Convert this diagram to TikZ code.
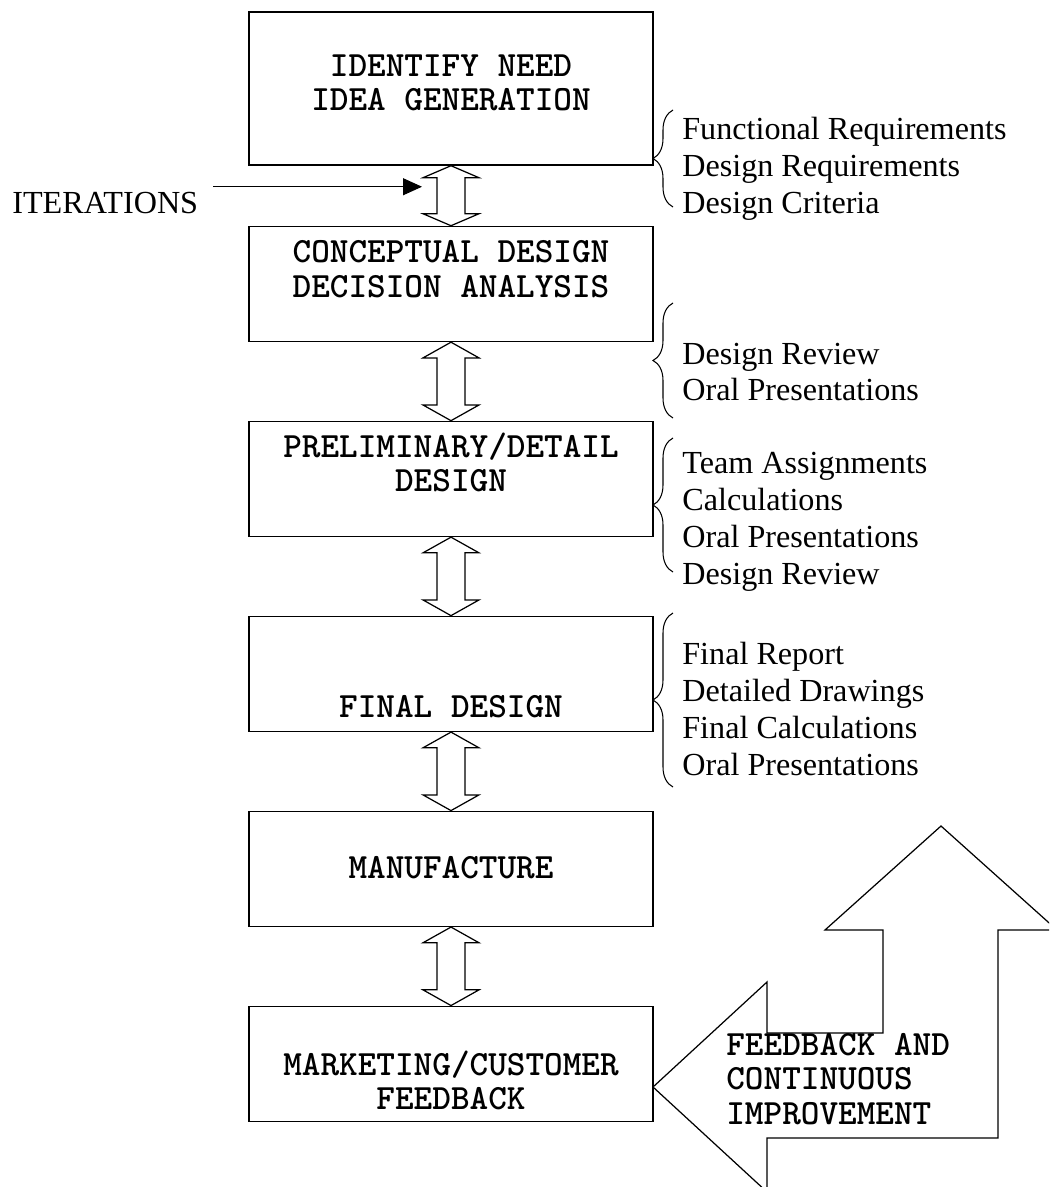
\documentclass[tikz,border=0pt]{standalone}
\usepackage{fontspec}
\setmainfont{Liberation Serif}
\usetikzlibrary{arrows.meta, positioning, calc, decorations.pathreplacing}

\tikzset{
  pd/box/.style={rectangle, draw, fill=white, minimum width=8.08cm,
    minimum height=2.3cm, inner sep=0pt, line width=0.85pt},
  pd/txt/.style={font=\fontsize{20.2}{19.6}\selectfont\ttfamily\bfseries,
    align=center, inner sep=0pt},
  pd/note/.style={font=\fontsize{18.3}{21}\selectfont, align=left,
    anchor=west, inner sep=0pt},
  pd/brace/.style={decorate, decoration={brace, amplitude=0.4cm},
    line width=0.6pt},
  pd/dbl/.style={line width=0.7pt, fill=white, line join=miter},
  pd/arr/.style={-{Triangle[length=0.38cm, width=0.34cm]}, line width=0.6pt},
  pd/big/.style={line width=0.7pt, line join=miter}
}

% hollow two-headed arrow between two stacked boxes
\newcommand{\dblarrow}[2]{%
  \path ($(#1.south)!.2!(#2.north)$) coordinate (hA)
        ($(#1.south)!.8!(#2.north)$) coordinate (hB);
  \draw[pd/dbl] (#1.south) -- ($(hA)+(-28,0)$) -- ($(hA)+(-14,0)$)
    -- ($(hB)+(-14,0)$) -- ($(hB)+(-28,0)$) -- (#2.north)
    -- ($(hB)+(28,0)$) -- ($(hB)+(14,0)$) -- ($(hA)+(14,0)$)
    -- ($(hA)+(28,0)$) -- cycle;
}

\begin{document}
\begin{tikzpicture}[x=0.02cm, y=-0.02cm, node distance=1.57cm]
  \path[use as bounding box, clip] (0,0) rectangle (1049,1187);

  % design stages
  \node[pd/box, minimum height=3.06cm] (b1) at (451,88.5) {};
  \node[pd/box, below=1.2cm of b1] (b2) {};
  \node[pd/box, below=of b2] (b3) {};
  \node[pd/box, below=of b3] (b4) {};
  \node[pd/box, below=of b4] (b5) {};
  \node[pd/box, below=of b5] (b6) {};

  \node[pd/txt] (b1t) at ($(b1.center)+(0,-5.5)$) {IDENTIFY NEED\\IDEA GENERATION};
  \node[pd/txt] (b2t) at ($(b2.center)+(0,-15)$) {CONCEPTUAL DESIGN\\DECISION ANALYSIS};
  \node[pd/txt] (b3t) at ($(b3.center)+(0,-16.5)$) {PRELIMINARY/DETAIL\\DESIGN};
  \node[pd/txt] (b4t) at ($(b4.center)+(0,32.5)$) {FINAL DESIGN};
  \node[pd/txt] (b5t) at ($(b5.center)+(0,-1.5)$) {MANUFACTURE};
  \node[pd/txt] (b6t) at ($(b6.center)+(0,16.5)$) {MARKETING/CUSTOMER\\FEEDBACK};

  \dblarrow{b1}{b2}
  \dblarrow{b2}{b3}
  \dblarrow{b3}{b4}
  \dblarrow{b4}{b5}
  \dblarrow{b5}{b6}

  % iterations
  \node[pd/note] (it) at (12,203) {ITERATIONS};
  \coordinate (itip) at ($(b1.south)!.35!(b2.north)+(-29,0)$);
  \draw[pd/arr] (it.east |- itip) ++(15,0) -- (itip);

  % deliverables of each stage
  \draw[pd/brace] (673,207) -- (673,110);
  \node[pd/note] (n1) at (682,169) {Functional Requirements\\Design Requirements\\Design Criteria};
  \draw[pd/brace] (673,418) -- (673,303);
  \node[pd/note] (n2) at (682,372) {Design Review\\Oral Presentations};
  \draw[pd/brace] (673,572) -- (673,438);
  \node[pd/note] (n3) at (682,522) {Team Assignments\\Calculations\\Oral Presentations\\Design Review};
  \draw[pd/brace] (673,787) -- (673,613);
  \node[pd/note] (n4) at (682,709) {Final Report\\Detailed Drawings\\Final Calculations\\Oral Presentations};

  % feedback loop arrow
  \coordinate (fb) at (653,1087);
  \draw[pd/big] (fb) -- (767,982) -- (767,1033) -- (883,1033) -- (883,930)
    -- (825,930) -- (941,826) -- (1057,930) -- (998,930) -- (998,1138)
    -- (767,1138) -- (767,1192) -- cycle;
  \node[pd/txt, align=left, anchor=west] (fbt) at (726,1079)
    {FEEDBACK AND\\CONTINUOUS\\IMPROVEMENT};
\end{tikzpicture}
\end{document}
